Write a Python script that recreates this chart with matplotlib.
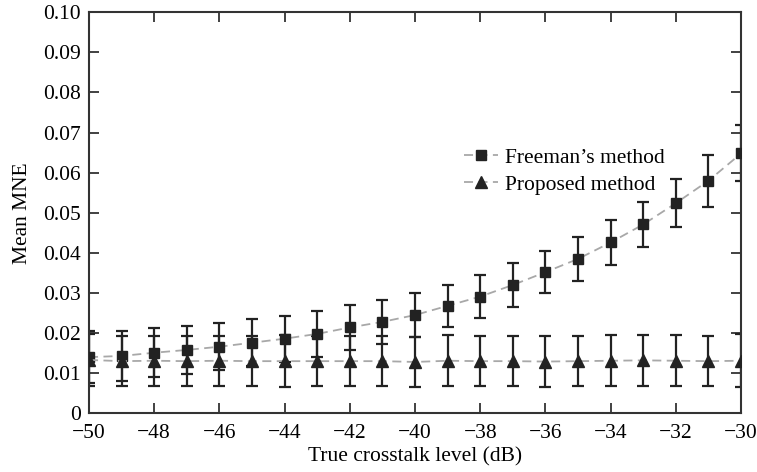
import numpy as np
import matplotlib
matplotlib.use("Agg")
import matplotlib.pyplot as plt

# ---- data ----
crosstalk_db = list(range(-50, -29))

freeman_mean = [0.0140, 0.0143, 0.0151, 0.0158, 0.0166, 0.0176, 0.0186, 0.0198,
                0.0214, 0.0228, 0.0245, 0.0268, 0.0291, 0.0320, 0.0352, 0.0385,
                0.0426, 0.0471, 0.0524, 0.0580, 0.0648]
freeman_err = [0.0064, 0.0063, 0.0061, 0.0060, 0.0059, 0.0058, 0.0057, 0.0057,
               0.0055, 0.0055, 0.0054, 0.0053, 0.0053, 0.0054, 0.0053, 0.0054,
               0.0055, 0.0057, 0.0060, 0.0065, 0.0070]

proposed_mean = [0.0133, 0.0130, 0.0131, 0.0130, 0.0131, 0.0130, 0.0130, 0.0130,
                 0.0130, 0.0130, 0.0128, 0.0131, 0.0130, 0.0130, 0.0129, 0.0130,
                 0.0131, 0.0132, 0.0131, 0.0130, 0.0131]
proposed_err = [0.0064, 0.0063, 0.0062, 0.0062, 0.0062, 0.0062, 0.0064, 0.0063,
                0.0063, 0.0063, 0.0063, 0.0063, 0.0063, 0.0063, 0.0063, 0.0062,
                0.0063, 0.0063, 0.0063, 0.0063, 0.0066]

# ---- style ----
plt.rcParams["font.family"] = ["Liberation Serif", "DejaVu Serif"]
plt.rcParams["font.size"] = 15.5

INK = "#222222"
LINE_GREY = "#a8a8a8"

fig = plt.figure(figsize=(7.57, 4.72), dpi=100)
ax = fig.add_axes([0.1176, 0.1244, 0.8614, 0.8496])

for mean, err, mk, ms, lbl in [
    (freeman_mean, freeman_err, "s", 7, "Freeman\u2019s method"),
    (proposed_mean, proposed_err, "^", 8, "Proposed method"),
]:
    ax.errorbar(crosstalk_db, mean, yerr=err, fmt="none", ecolor=INK,
                elinewidth=1.6, capsize=4.5, capthick=1.6, zorder=2)
    ax.plot(crosstalk_db, mean, color=LINE_GREY, lw=1.3, ls=(0, (5, 3)),
            marker=mk, ms=ms, mfc=INK, mec=INK, label=lbl, zorder=3)

ax.set_xlim(-50, -30)
ax.set_ylim(0, 0.10)
ax.set_xticks(np.arange(-50, -29, 2))
ax.set_xticklabels([f"\u2212{abs(v)}" for v in range(-50, -29, 2)])
ax.set_yticks(np.arange(0, 0.101, 0.01))
ax.set_yticklabels(["0"] + [f"{v:.2f}" for v in np.arange(0.01, 0.101, 0.01)])

ax.tick_params(direction="in", length=7, width=1.3, color="#333333",
               top=True, right=True)
ax.tick_params(axis="x", pad=8)
ax.tick_params(axis="y", pad=6)
for s in ax.spines.values():
    s.set_color("#333333")
    s.set_linewidth(1.5)

ax.set_xlabel("True crosstalk level (dB)", labelpad=3)
ax.set_ylabel("Mean MNE", labelpad=8)

ax.legend(loc="upper left", bbox_to_anchor=(0.545, 0.71), frameon=False,
          handlelength=1.6, handletextpad=0.3, labelspacing=0.32)

fig.savefig("out.png", dpi=100)
